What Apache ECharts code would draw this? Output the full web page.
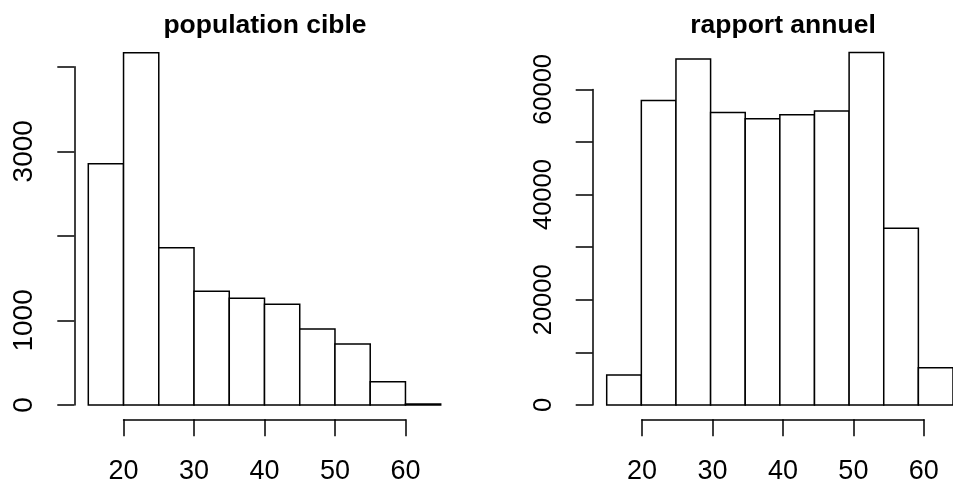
<!DOCTYPE html>
<html>
<head>
<meta charset="utf-8">
<script src="https://cdn.jsdelivr.net/npm/echarts@6/dist/echarts.min.js"></script>
<style>
html,body{margin:0;padding:0;background:#fff;}
#chart{width:953px;height:486px;}
</style>
</head>
<body>
<div id="chart"></div>
<script>
// Data
const titles = ['population cible', 'rapport annuel'];
const breaks = [15, 20, 25, 30, 35, 40, 45, 50, 55, 60, 65];
const popCible = [2853, 4165, 1860, 1344, 1261, 1190, 898, 721, 276, 12];
const rapportAnnuel = [5700, 57900, 65800, 55600, 54400, 55200, 55900, 67000, 33600, 7100];
const xTicks = [20, 30, 40, 50, 60];
const leftYLabels = [0, 1000, 3000];
const rightYLabels = [0, 20000, 40000, 60000];

const FONT = 'Liberation Sans, Arial, Helvetica, sans-serif';
const XFS = 27;
const LW = 1.5;

function histData(counts) {
  return counts.map((c, i) => [breaks[i], breaks[i + 1], c]);
}

function renderRect(params, api) {
  const p0 = api.coord([api.value(0), api.value(2)]);
  const p1 = api.coord([api.value(1), 0]);
  return {
    type: 'rect',
    shape: { x: p0[0], y: p0[1], width: p1[0] - p0[0], height: p1[1] - p0[1] },
    style: { fill: '#fff', stroke: '#000', lineWidth: LW }
  };
}

function yAxisCfg(gridIndex, max, interval, shown, fs) {
  return {
    gridIndex, type: 'value', min: 0, max, interval, position: 'left', offset: 14,
    axisLine: { show: true, lineStyle: { color: '#000', width: LW } },
    axisTick: { show: true, inside: false, length: 17, lineStyle: { color: '#000', width: LW } },
    axisLabel: {
      show: true, rotate: 90, margin: 36, color: '#000', fontSize: fs, fontFamily: FONT,
      formatter: v => shown.indexOf(v) >= 0 ? String(v) : ''
    },
    splitLine: { show: false }
  };
}

function xAxisTickCfg(gridIndex) {
  return {
    gridIndex, type: 'value', min: xTicks[0], max: xTicks[xTicks.length - 1],
    interval: xTicks[1] - xTicks[0], position: 'bottom',
    axisLine: { show: true, onZero: false, lineStyle: { color: '#000', width: LW } },
    axisTick: { show: true, inside: false, length: 17, lineStyle: { color: '#000', width: LW } },
    axisLabel: { show: true, margin: 39, color: '#000', fontSize: XFS, fontFamily: FONT,
      formatter: v => xTicks.indexOf(v) >= 0 ? String(v) : '' },
    splitLine: { show: false }
  };
}

function hiddenX(gridIndex, min, max) {
  return { gridIndex, type: 'value', min, max, show: false, splitLine: { show: false } };
}
function hiddenY(gridIndex) {
  return { gridIndex, type: 'value', min: 0, max: 1, show: false, splitLine: { show: false } };
}

const unit = 352.4 / (breaks[breaks.length - 1] - breaks[0]);
const panels = [
  { left: 88.3, top: 66.7, height: 338.3 },
  { left: 606.7, top: 89.4, height: 315.6 }
];

const grids = [];
panels.forEach(p => {
  grids.push({ left: p.left, top: p.top, width: 352.4, height: p.height, containLabel: false });
  grids.push({ left: p.left + (xTicks[0] - breaks[0]) * unit, top: 418.3,
    width: (xTicks[xTicks.length - 1] - xTicks[0]) * unit, height: 1, containLabel: false });
});

const titleStyle = { fontSize: 26.5, fontWeight: 'bold', color: '#000', fontFamily: FONT };
const option = {
  animation: false,
  backgroundColor: '#fff',
  title: [
    { text: titles[0], left: 260, top: 7, padding: 5, textAlign: 'center', textStyle: titleStyle },
    { text: titles[1], left: 778, top: 7, padding: 5, textAlign: 'center', textStyle: titleStyle }
  ],
  grid: grids,
  xAxis: [
    hiddenX(0, breaks[0], breaks[breaks.length - 1]),
    xAxisTickCfg(1),
    hiddenX(2, breaks[0], breaks[breaks.length - 1]),
    xAxisTickCfg(3)
  ],
  yAxis: [
    yAxisCfg(0, 4000, 1000, leftYLabels, 28),
    hiddenY(1),
    yAxisCfg(2, 60000, 10000, rightYLabels, 25.5),
    hiddenY(3)
  ],
  series: [
    { type: 'custom', xAxisIndex: 0, yAxisIndex: 0, clip: false, renderItem: renderRect,
      encode: { x: [0, 1], y: 2 }, data: histData(popCible) },
    { type: 'custom', xAxisIndex: 2, yAxisIndex: 2, clip: false, renderItem: renderRect,
      encode: { x: [0, 1], y: 2 }, data: histData(rapportAnnuel) }
  ]
};

const chart = echarts.init(document.getElementById('chart'), null, { renderer: 'canvas' });
chart.setOption(option);
</script>
</body>
</html>
